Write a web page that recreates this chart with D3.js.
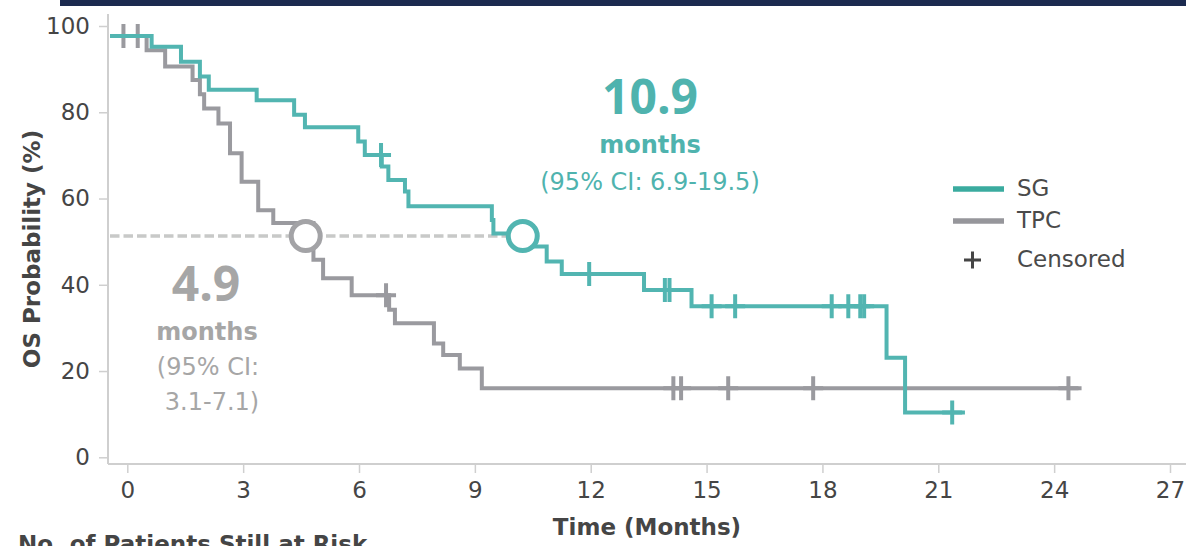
<!DOCTYPE html>
<html>
<head>
<meta charset="utf-8">
<script src="https://cdn.jsdelivr.net/npm/d3@7"></script>
<style>
  body { margin: 0; background: #fff; }
  svg { display: block; font-family: "DejaVu Sans", sans-serif; }
</style>
</head>
<body>
<svg id="chart" width="1186" height="546"></svg>
<script>
// KM curves (time in months, OS probability in %)
const sgStart = 97.7;
const sgEventTimes  = [0.63, 1.39, 1.88, 2.11, 3.35, 4.32, 4.60, 5.98, 6.15, 6.59, 6.76, 7.19, 7.28, 9.44, 9.48, 10.24, 10.86, 11.25, 13.38, 14.61, 19.66, 20.14];
const sgEventValues = [95.2, 91.7, 88.3, 85.2, 82.8, 79.4, 76.5, 73.2, 70.1, 67.4, 64.3, 61.6, 58.2, 55.0, 51.9, 48.9, 45.4, 42.5, 38.8, 35.0, 23.1, 10.4];
const sgEnd = 21.69;
const sgCensored = [6.57, 11.96, 13.92, 14.04, 15.13, 15.74, 18.24, 18.67, 18.98, 19.08, 21.36];

const tpcStart = 97.7;
const tpcEventTimes  = [0.50, 0.98, 1.69, 1.88, 1.99, 2.36, 2.66, 2.96, 3.39, 3.78, 4.82, 5.07, 5.81, 6.78, 6.93, 7.94, 8.18, 8.61, 9.18];
const tpcEventValues = [94.4, 90.6, 87.5, 84.2, 80.9, 77.4, 70.5, 63.9, 57.3, 54.3, 45.8, 41.5, 37.6, 34.2, 31.1, 26.4, 23.7, 20.6, 16.0];
const tpcEnd = 24.71;
const tpcCensored = [-0.10, 0.27, 6.70, 14.14, 14.34, 15.56, 17.76, 24.37];

const medianLevel = 51.3;
const sgMedian = 10.24;
const tpcMedian = 4.62;

const xTicks = [0, 3, 6, 9, 12, 15, 18, 21, 24, 27];
const yTicks = [0, 20, 40, 60, 80, 100];
const legendNames = ["SG", "TPC", "Censored"];

const teal = "#52b5b1", grey = "#9a9a9f";
const tealText = "#4fb3ae", greyText = "#a6a6a6";
const axisCol = "#cfcfcf", tickText = "#454545";

const svg = d3.select("#chart");

const axisX0 = 108, axisY0 = 464;

const x = d3.scaleLinear().domain([0, 27]).range([127.3, 1170]);
const y = d3.scaleLinear().domain([0, 100]).range([457.3, 26]);

// navy band at the top
svg.append("rect")
   .attr("x", 60).attr("y", 0)
   .attr("width", 1126).attr("height", 6)
   .attr("fill", "#1c2a4f");

// axes
const xAxis = svg.append("g")
   .attr("transform", `translate(0,${axisY0})`)
   .call(d3.axisBottom(x).tickValues(xTicks).tickSize(9).tickPadding(9))
   .attr("font-family", "DejaVu Sans");
xAxis.select(".domain").remove();
xAxis.selectAll(".tick line").attr("stroke", axisCol).attr("stroke-width", 1.5);
xAxis.selectAll(".tick text").attr("fill", tickText).style("font-size", "23px");

const yAxis = svg.append("g")
   .attr("transform", `translate(${axisX0},0)`)
   .call(d3.axisLeft(y).tickValues(yTicks).tickSize(9).tickPadding(9))
   .attr("font-family", "DejaVu Sans");
yAxis.select(".domain").remove();
yAxis.selectAll(".tick line").attr("stroke", axisCol).attr("stroke-width", 1.5);
yAxis.selectAll(".tick text").attr("fill", tickText).style("font-size", "23px");

svg.append("line")
   .attr("x1", axisX0).attr("x2", 1186)
   .attr("y1", axisY0).attr("y2", axisY0)
   .attr("stroke", axisCol).attr("stroke-width", 2);
svg.append("line")
   .attr("x1", axisX0).attr("x2", axisX0)
   .attr("y1", 14).attr("y2", axisY0)
   .attr("stroke", axisCol).attr("stroke-width", 2);

// axis titles
svg.append("text")
   .attr("transform", `translate(40,249) rotate(-90)`)
   .attr("text-anchor", "middle")
   .attr("fill", tickText)
   .style("font-size", "23px").style("font-weight", "bold")
   .text("OS Probability (%)");

svg.append("text")
   .attr("x", 647).attr("y", 535)
   .attr("text-anchor", "middle")
   .attr("fill", tickText)
   .style("font-size", "23px").style("font-weight", "bold")
   .text("Time (Months)");

svg.append("text")
   .attr("x", 18).attr("y", 552)
   .attr("fill", tickText)
   .style("font-size", "23px").style("font-weight", "bold")
   .text("No. of Patients Still at Risk");

// median dashed line
svg.append("line")
   .attr("x1", axisX0 + 2).attr("x2", x(sgMedian))
   .attr("y1", y(medianLevel)).attr("y2", y(medianLevel))
   .attr("stroke", "#c8c9c8").attr("stroke-width", 3.5)
   .attr("stroke-dasharray", "9.5,4");

// step curves
const t0 = x.invert(axisX0 + 2);
function stepPoints(start, times, values, end) {
    const pts = [[t0, start]];
    times.forEach((t, i) => pts.push([t, values[i]]));
    pts.push([end, values[values.length - 1]]);
    return pts;
}
function valueAt(start, times, values, t) {
    let v = start;
    times.forEach((tt, i) => { if (tt <= t) v = values[i]; });
    return v;
}

const stepLine = d3.line()
    .x(d => x(d[0]))
    .y(d => y(d[1]))
    .curve(d3.curveStepAfter);

const groups = [
    {start: tpcStart, times: tpcEventTimes, values: tpcEventValues, end: tpcEnd, cens: tpcCensored, color: grey, median: tpcMedian},
    {start: sgStart, times: sgEventTimes, values: sgEventValues, end: sgEnd, cens: sgCensored, color: teal, median: sgMedian}
];

groups.forEach(g => {
    svg.append("path")
       .datum(stepPoints(g.start, g.times, g.values, g.end))
       .attr("fill", "none")
       .attr("stroke", g.color)
       .attr("stroke-width", 4)
       .attr("d", stepLine);

    // censor marks
    svg.append("g").selectAll("path")
       .data(g.cens)
       .join("path")
       .attr("transform", t => `translate(${x(t)},${y(valueAt(g.start, g.times, g.values, t))})`)
       .attr("d", "M0,-12V12M-10,0H10")
       .attr("stroke", g.color)
       .attr("stroke-width", 4)
       .attr("fill", "none");
});

// median circles
groups.forEach(g => {
    svg.append("circle")
       .attr("cx", x(g.median)).attr("cy", y(medianLevel))
       .attr("r", 14.5)
       .attr("fill", "#fff")
       .attr("stroke", g.color === teal ? teal : "#a3a3a6")
       .attr("stroke-width", 5);
});

// annotations
const sgNote = svg.append("g").attr("text-anchor", "middle").attr("fill", tealText);
sgNote.append("text").attr("x", 650).attr("y", 114)
      .style("font-family", "'Open Sans', sans-serif")
      .style("font-size", "48px").style("font-weight", "bold").text("10.9");
sgNote.append("text").attr("x", 650).attr("y", 153)
      .style("font-size", "24px").style("font-weight", "bold").text("months");
sgNote.append("text").attr("x", 650).attr("y", 190)
      .style("font-size", "24px").text("(95% CI: 6.9-19.5)");

const tpcNote = svg.append("g").attr("text-anchor", "middle").attr("fill", greyText);
tpcNote.append("text").attr("x", 206).attr("y", 301)
       .style("font-family", "'Open Sans', sans-serif")
       .style("font-size", "48px").style("font-weight", "bold").text("4.9");
tpcNote.append("text").attr("x", 207).attr("y", 340)
       .style("font-size", "24px").style("font-weight", "bold").text("months");
tpcNote.append("text").attr("x", 208).attr("y", 375)
       .style("font-size", "24px").text("(95% CI:");
tpcNote.append("text").attr("x", 212).attr("y", 410)
       .style("font-size", "24px").text("3.1-7.1)");

// legend
const legend = svg.append("g");
const legendY = [189, 221, 260];
legend.append("line").attr("x1", 953).attr("x2", 1004).attr("y1", legendY[0]).attr("y2", legendY[0])
      .attr("stroke", "#3aab9f").attr("stroke-width", 5.5);
legend.append("line").attr("x1", 953).attr("x2", 1004).attr("y1", legendY[1]).attr("y2", legendY[1])
      .attr("stroke", "#96969b").attr("stroke-width", 5.5);
legend.append("path")
      .attr("transform", `translate(972.5,${legendY[2]})`)
      .attr("d", "M0,-8.5V8.5M-8.5,0H8.5")
      .attr("stroke", "#454545").attr("stroke-width", 3);
legend.selectAll("text")
      .data(legendNames)
      .join("text")
      .attr("x", 1017)
      .attr("y", (d, i) => legendY[i] + 7)
      .attr("fill", "#4a4a4a")
      .style("font-size", "23px")
      .text(d => d);
</script>
</body>
</html>
